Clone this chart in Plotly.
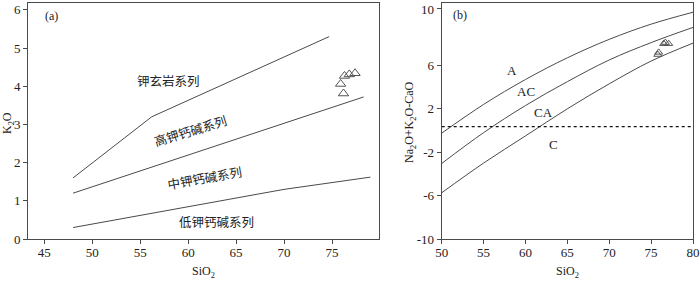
import plotly.graph_objects as go

# ---- panel (a): K2O vs SiO2 ----
a_sho_x = [48, 56.2, 74.7]
a_sho_y = [1.6, 3.2, 5.3]
a_hk_x = [48, 78.3]
a_hk_y = [1.2, 3.72]
a_mk_x = [48, 70, 79]
a_mk_y = [0.3, 1.3, 1.62]
a_sample_x = [75.9, 76.2, 76.3, 76.8, 77.4]
a_sample_y = [4.06, 3.81, 4.27, 4.31, 4.34]
a_labels = ["钾玄岩系列", "高钾钙碱系列", "中钾钙碱系列", "低钾钙碱系列"]
a_label_x = [57.9, 60.2, 61.7, 63.0]
a_label_y = [4.16, 2.83, 1.62, 0.47]
a_label_angle = [0, -17, -10, 0]
a_xticks = [45, 50, 55, 60, 65, 70, 75]
a_yticks = [0, 1, 2, 3, 4, 5, 6]

# ---- panel (b): Na2O+K2O-CaO vs SiO2 ----
b_x = [50, 55, 60, 65, 70, 75, 80]
b_A = [-0.25, 2.4, 4.7, 6.7, 8.4, 9.8, 10.9]
b_AC = [-3.04, -0.2, 2.3, 4.5, 6.5, 8.1, 9.5]
b_CA = [-5.74, -3.0, -0.5, 2.0, 4.3, 6.4, 8.05]
b_dash_x = [50, 80]
b_dash_y = [0.35, 0.35]
b_sample_x = [76.5, 76.7, 77.1, 75.9, 75.8]
b_sample_y = [8.0, 8.1, 8.0, 7.2, 7.0]
b_labels = ["A", "AC", "CA", "C"]
b_label_x = [58.45, 60.1, 62.15, 63.4]
b_label_y = [5.54, 3.64, 1.7, -1.26]
b_xticks = [50, 55, 60, 65, 70, 75, 80]
b_yticks = [-10, -6, -2, 2, 6, 11.2]
b_yticktext = ["-10", "-6", "-2", "2", "6", "10"]

LINE = "#4a4a4a"
SERIF = "Liberation Serif"
CJK = "Noto Sans CJK SC"

fig = go.Figure()

for xs, ys in [(a_sho_x, a_sho_y), (a_hk_x, a_hk_y), (a_mk_x, a_mk_y)]:
    fig.add_trace(go.Scatter(x=xs, y=ys, mode="lines", line=dict(color=LINE, width=1),
                             xaxis="x", yaxis="y", showlegend=False, hoverinfo="skip"))
fig.add_trace(go.Scatter(x=a_sample_x, y=a_sample_y, mode="markers",
                         marker=dict(symbol="triangle-up-open", size=9, color="#555",
                                     line=dict(width=1)),
                         xaxis="x", yaxis="y", showlegend=False))

for ys in [b_A, b_AC, b_CA]:
    fig.add_trace(go.Scatter(x=b_x, y=ys, mode="lines", line=dict(color=LINE, width=1, shape="spline"),
                             xaxis="x2", yaxis="y2", showlegend=False, hoverinfo="skip"))
fig.add_trace(go.Scatter(x=b_dash_x, y=b_dash_y, mode="lines",
                         line=dict(color="#111", width=1.2, dash="dot"),
                         xaxis="x2", yaxis="y2", showlegend=False, hoverinfo="skip"))
fig.add_trace(go.Scatter(x=b_sample_x, y=b_sample_y, mode="markers",
                         marker=dict(symbol="triangle-up-open", size=7, color="#555",
                                     line=dict(width=1)),
                         xaxis="x2", yaxis="y2", showlegend=False))

L, R, T, B = 28, 7, 3, 42
W = 700 - L - R
H = 281 - T - B

annotations = []
for t, x, y, ang in zip(a_labels, a_label_x, a_label_y, a_label_angle):
    annotations.append(dict(text=t, x=x, y=y, xref="x", yref="y", showarrow=False,
                            textangle=ang, font=dict(family=CJK, size=12.5, color="#222")))
for t, x, y in zip(b_labels, b_label_x, b_label_y):
    annotations.append(dict(text=t, x=x, y=y, xref="x2", yref="y2", showarrow=False,
                            font=dict(family=SERIF, size=13, color="#222")))
annotations.append(dict(text="(a)", x=45.8, y=5.84, xref="x", yref="y", showarrow=False,
                        font=dict(family=SERIF, size=12, color="#222")))
annotations.append(dict(text="(b)", x=52.2, y=10.6, xref="x2", yref="y2", showarrow=False,
                        font=dict(family=SERIF, size=12, color="#222")))
# axis titles
annotations.append(dict(text="SiO<sub>2</sub>", x=0.5, y=(239 - 272) / H, xref="x domain", yref="paper",
                        xanchor="center", yanchor="middle",
                        showarrow=False, font=dict(family=SERIF, size=12, color="#222")))
annotations.append(dict(text="SiO<sub>2</sub>", x=0.5, y=(239 - 272) / H, xref="x2 domain", yref="paper",
                        xanchor="center", yanchor="middle",
                        showarrow=False, font=dict(family=SERIF, size=12, color="#222")))
annotations.append(dict(text="K<sub>2</sub>O", x=(8 - L) / W, y=(239 - 123) / H, xref="paper", yref="paper",
                        xanchor="center", yanchor="middle",
                        showarrow=False, textangle=-90, font=dict(family=SERIF, size=12, color="#222")))
annotations.append(dict(text="Na<sub>2</sub>O+K<sub>2</sub>O-CaO", x=(410 - L) / W, y=(239 - 122) / H,
                        xref="paper", yref="paper", xanchor="center", yanchor="middle",
                        showarrow=False, textangle=-90,
                        font=dict(family=SERIF, size=12, color="#222")))

axis_common = dict(showline=True, linecolor=LINE, linewidth=1, mirror=True, showgrid=False,
                   zeroline=False, ticks="outside", ticklen=4, tickwidth=1, tickcolor=LINE,
                   automargin=False, ticklabeloverflow="allow",
                   tickfont=dict(family=SERIF, size=13, color="#222"))

fig.update_layout(
    width=700, height=281,
    margin=dict(l=L, r=R, t=T, b=B, autoexpand=False),
    plot_bgcolor="white", paper_bgcolor="white",
    xaxis=dict(domain=[0, (379 - L) / W], range=[43.3, 79.9], tickvals=a_xticks, anchor="y",
               ticklabelstandoff=-3, **axis_common),
    yaxis=dict(domain=[0, 1], range=[0, 6.18], tickvals=a_yticks, anchor="x", **axis_common),
    xaxis2=dict(domain=[(441.7 - L) / W, 1], range=[50, 80], tickvals=b_xticks, anchor="y2",
                ticklabelstandoff=-3, **axis_common),
    yaxis2=dict(domain=[0, 1], range=[-10, 11.75], tickvals=b_yticks, ticktext=b_yticktext,
                anchor="x2", **axis_common),
    annotations=annotations,
)

fig.write_html("out.html", config={"displayModeBar": False},
               post_script="document.body.style.margin='0px';")
